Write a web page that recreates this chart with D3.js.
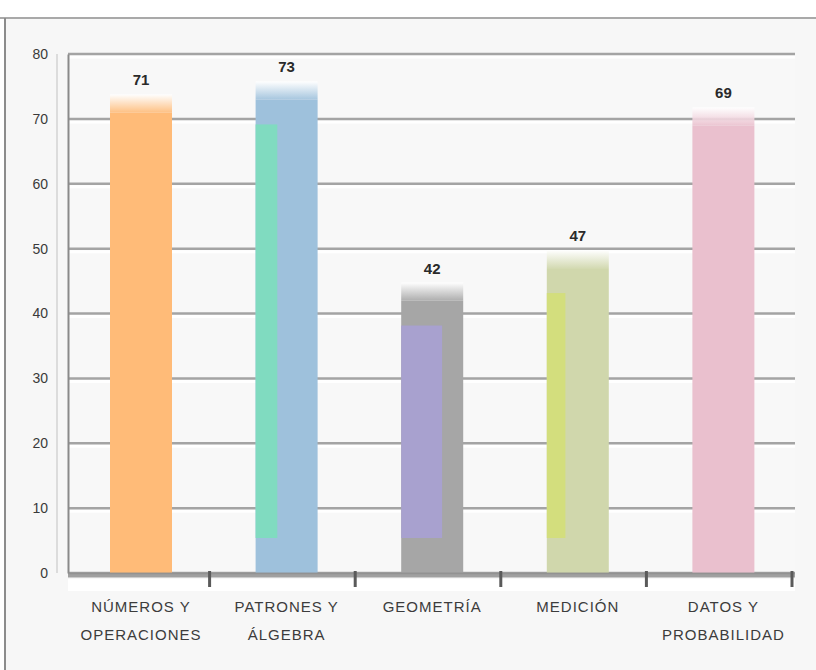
<!DOCTYPE html>
<html>
<head>
<meta charset="utf-8">
<script src="https://cdn.jsdelivr.net/npm/d3@7"></script>
<style>
  html, body { margin: 0; padding: 0; background: #ffffff; }
  svg { display: block; font-family: "Liberation Sans", Arial, sans-serif; }
</style>
</head>
<body>
<div id="chart"></div>
<script>
// Chart data
const categories = ['NÚMEROS Y OPERACIONES', 'PATRONES Y ÁLGEBRA', 'GEOMETRÍA', 'MEDICIÓN', 'DATOS Y PROBABILIDAD'];
const categoryLines = [['NÚMEROS Y', 'OPERACIONES'], ['PATRONES Y', 'ÁLGEBRA'], ['GEOMETRÍA'], ['MEDICIÓN'], ['DATOS Y', 'PROBABILIDAD']];
const values = [71, 73, 42, 47, 69];
const yTicks = [0, 10, 20, 30, 40, 50, 60, 70, 80];

// Bar colours (main fill, left accent and its share of the bar width)
const barColors = ['#ffbb78', '#9ec1dc', '#a6a6a6', '#d0d7ac', '#eac0ce'];
const accentColors = ['#ffbb78', '#80dbc0', '#a8a1cf', '#d3de7d', '#eac0ce'];
const accentShare = [0, 0.35, 0.66, 0.3, 0];

const width = 816, height = 670;
const plot = { left: 64, right: 792, top: 54, bottom: 573 };

const svg = d3.select('#chart').append('svg')
    .attr('width', width)
    .attr('height', height);

// Frame
svg.append('rect').attr('x', 0).attr('y', 0).attr('width', width).attr('height', height).attr('fill', '#ffffff');
svg.append('rect').attr('x', 5).attr('y', 19).attr('width', width - 5).attr('height', height - 19).attr('fill', '#f7f7f7');
svg.append('line').attr('x1', 0).attr('x2', width).attr('y1', 18).attr('y2', 18)
    .attr('stroke', '#a9a9a9').attr('stroke-width', 2);
svg.append('line').attr('x1', 5).attr('x2', 5).attr('y1', 18).attr('y2', height)
    .attr('stroke', '#8c8c8c').attr('stroke-width', 2);

const x = d3.scaleBand()
    .domain(categories)
    .range([plot.left, plot.right]);

const y = d3.scaleLinear()
    .domain([0, 80])
    .range([plot.bottom, plot.top]);

const barOffset = 46, barWidth = 62;

// Plot background and grid
svg.append('rect')
    .attr('x', 68).attr('y', plot.top)
    .attr('width', plot.right + 3 - 68).attr('height', plot.bottom - plot.top)
    .attr('fill', '#f8f8f8');

const grid = svg.append('g').attr('class', 'grid');
yTicks.forEach(t => {
    grid.append('line')
        .attr('x1', 68).attr('x2', plot.right + 3)
        .attr('y1', y(t) + 3).attr('y2', y(t) + 3)
        .attr('stroke', '#ffffff').attr('stroke-width', 3);
    grid.append('line')
        .attr('x1', 68).attr('x2', plot.right + 3)
        .attr('y1', y(t)).attr('y2', y(t))
        .attr('stroke', '#a4a4a4').attr('stroke-width', 2.5);
});

// Light fading cap above each bar
const defs = svg.append('defs');
barColors.forEach((c, i) => {
    const grad = defs.append('linearGradient')
        .attr('id', 'cap-' + i)
        .attr('x1', 0).attr('x2', 0).attr('y1', 0).attr('y2', 1);
    grad.append('stop').attr('offset', '0%').attr('stop-color', '#ffffff').attr('stop-opacity', 0.9);
    grad.append('stop').attr('offset', '100%').attr('stop-color', c).attr('stop-opacity', 0.9);
});

// Bars
const bars = svg.append('g').attr('class', 'bars');
categories.forEach((cat, i) => {
    const bx = x(cat) + barOffset;
    const top = y(values[i]);

    bars.append('rect')
        .attr('x', bx).attr('y', top - 18)
        .attr('width', barWidth).attr('height', 18)
        .attr('fill', 'url(#cap-' + i + ')');

    bars.append('rect')
        .attr('x', bx).attr('y', top)
        .attr('width', barWidth).attr('height', y(0) - top)
        .attr('fill', barColors[i]);

    if (accentShare[i] > 0) {
        bars.append('rect')
            .attr('x', bx).attr('y', top + 25)
            .attr('width', barWidth * accentShare[i]).attr('height', y(0) - top - 60)
            .attr('fill', accentColors[i]);
    }

    // Value label
    bars.append('text')
        .attr('x', bx + barWidth / 2)
        .attr('y', top - 27)
        .attr('text-anchor', 'middle')
        .attr('font-size', '15px')
        .attr('font-weight', 'bold')
        .attr('fill', '#2a2a2a')
        .text(values[i]);
});

// Y axis
const yAxis = svg.append('g')
    .attr('transform', 'translate(68,0)')
    .call(d3.axisLeft(y).tickValues(yTicks).tickSize(0).tickPadding(20));
yAxis.select('.domain').attr('stroke', '#8a8a8a').attr('stroke-width', 2);
yAxis.selectAll('text')
    .attr('font-size', '14px')
    .attr('fill', '#3a3a3a')
    .attr('font-family', '"Liberation Sans", Arial, sans-serif');
svg.append('line').attr('x1', 57).attr('x2', 57).attr('y1', plot.top).attr('y2', plot.bottom)
    .attr('stroke', '#dcdcdc').attr('stroke-width', 2);

// X axis
const xAxis = svg.append('g')
    .attr('transform', `translate(0,${plot.bottom + 2})`)
    .call(d3.axisBottom(x).tickSize(0).tickFormat(''));
xAxis.select('.domain').remove();
svg.append('line')
    .attr('x1', 68).attr('x2', plot.right + 3)
    .attr('y1', plot.bottom + 2).attr('y2', plot.bottom + 2)
    .attr('stroke', '#8f8f8f').attr('stroke-opacity', 0.85).attr('stroke-width', 5);
svg.append('rect')
    .attr('x', 68).attr('y', plot.bottom + 6)
    .attr('width', plot.right + 3 - 68).attr('height', 12)
    .attr('fill', '#ffffff');

// Band boundary ticks
const ticks = svg.append('g').attr('class', 'band-ticks');
categories.forEach(cat => {
    const tx = x(cat) + x.bandwidth();
    ticks.append('line')
        .attr('x1', tx).attr('x2', tx)
        .attr('y1', plot.bottom - 2).attr('y2', plot.bottom + 14)
        .attr('stroke', '#5a5a5a').attr('stroke-width', 3);
});

// Category labels
const labels = svg.append('g').attr('class', 'x-labels');
categories.forEach((cat, i) => {
    const cx = x(cat) + barOffset + barWidth / 2;
    const t = labels.append('text')
        .attr('x', cx)
        .attr('y', 612)
        .attr('text-anchor', 'middle')
        .attr('font-size', '15px')
        .attr('letter-spacing', '1px')
        .attr('fill', '#3c3c3c');
    categoryLines[i].forEach((line, j) => {
        t.append('tspan')
            .attr('x', cx)
            .attr('dy', j === 0 ? 0 : 28)
            .text(line);
    });
});
</script>
</body>
</html>
